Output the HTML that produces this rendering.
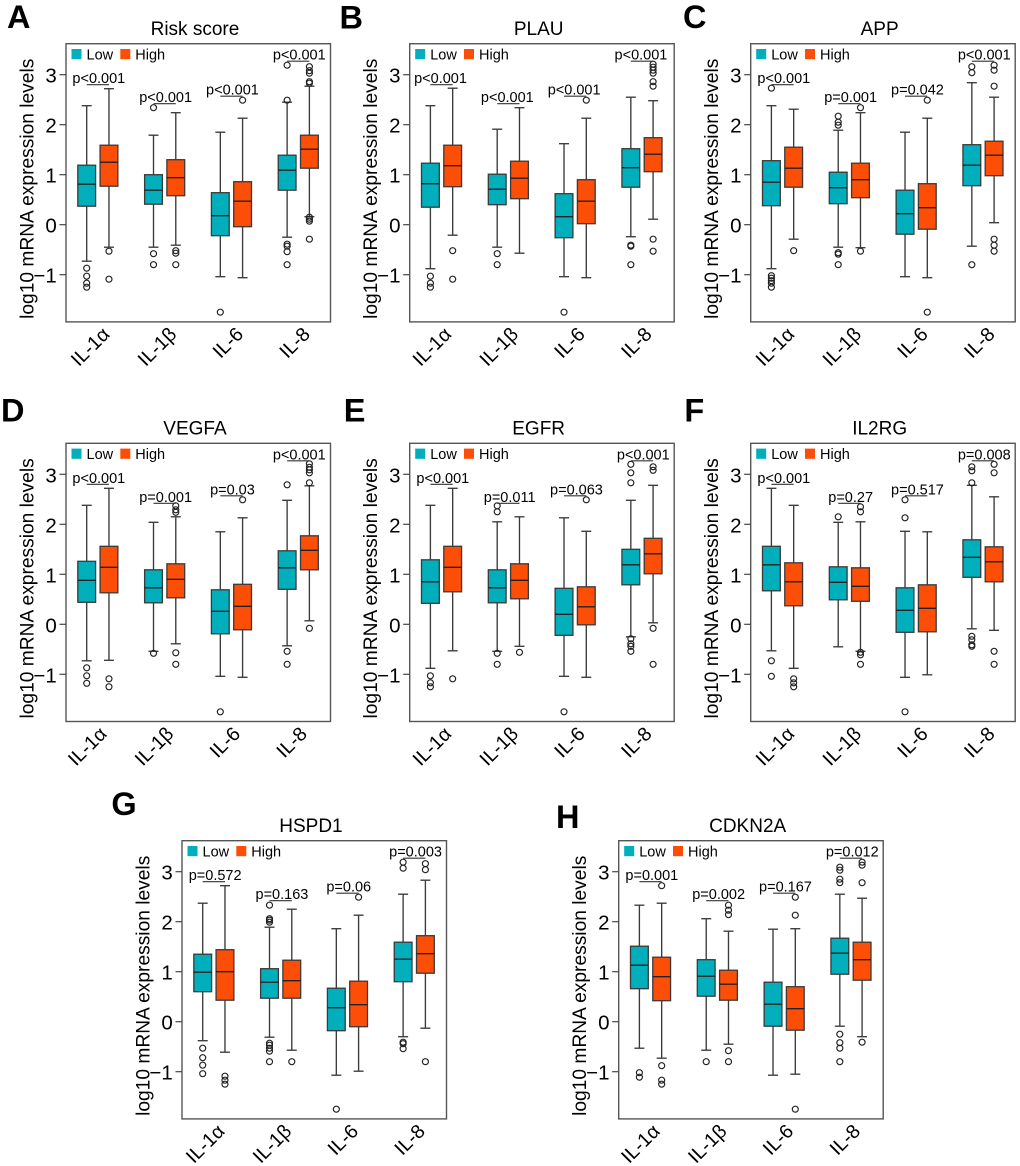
<!DOCTYPE html>
<html lang="en">
<head>
<meta charset="utf-8">
<title>mRNA expression boxplots</title>
<style>
html,body{margin:0;padding:0;background:#fff;width:1020px;height:1166px;overflow:hidden}
svg{display:block;font-family:"Liberation Sans",Arial,sans-serif}
</style>
</head>
<body>
<svg id="figure" xmlns="http://www.w3.org/2000/svg" width="1020" height="1166" viewBox="0 0 1020 1166"></svg>
<script>
// ---- chart data: order of each box is [lower whisker, Q1, median, Q3, upper whisker] ----
const categories = ['IL-1α', 'IL-1β', 'IL-6', 'IL-8'];
const groupNames = ['Low', 'High'];
const yTickValues = [-1, 0, 1, 2, 3];
const yTickLabels = ['−1', '0', '1', '2', '3'];
const panelTitles = ['Risk score', 'PLAU', 'APP', 'VEGFA', 'EGFR', 'IL2RG', 'HSPD1', 'CDKN2A'];
const panelLetters = ['A', 'B', 'C', 'D', 'E', 'F', 'G', 'H'];

const lowBoxes = [
  [[-.73,.37,.81,1.19,2.38],[-.45,.41,.69,1.0,1.79],[-1.04,-.22,.18,.64,1.85],[-.25,.69,1.09,1.39,2.45]],
  [[-.88,.35,.82,1.23,2.38],[-.45,.4,.71,1.01,1.91],[-1.04,-.26,.16,.62,1.62],[-.24,.75,1.14,1.52,2.55]],
  [[-.88,.38,.85,1.28,2.38],[-.45,.42,.74,1.05,1.89],[-1.04,-.19,.22,.69,1.85],[-.43,.78,1.19,1.6,2.84]],
  [[-.73,.44,.88,1.26,2.38],[-.54,.43,.73,1.09,2.04],[-1.04,-.19,.26,.69,1.85],[-.43,.7,1.13,1.47,2.48]],
  [[-.88,.42,.85,1.29,2.38],[-.54,.43,.73,1.09,2.05],[-1.04,-.22,.2,.72,2.13],[-.25,.79,1.19,1.5,2.48]],
  [[-.53,.67,1.19,1.56,2.72],[-.45,.49,.84,1.15,2.04],[-1.06,-.16,.28,.73,1.86],[-.09,.94,1.34,1.69,2.78]],
  [[-.38,.6,.99,1.35,2.37],[-.31,.47,.79,1.06,1.89],[-1.07,-.18,.28,.67,1.86],[-.3,.8,1.25,1.59,2.55]],
  [[-.53,.66,1.13,1.51,2.33],[-.57,.51,.91,1.24,2.06],[-1.07,-.09,.35,.79,1.85],[-.09,.95,1.37,1.67,2.55]]
];
const highBoxes = [
  [[-.45,.77,1.25,1.59,2.72],[-.41,.58,.94,1.3,2.24],[-1.06,-.04,.47,.86,2.13],[.16,1.13,1.51,1.79,2.77]],
  [[-.21,.76,1.18,1.59,2.73],[-.57,.52,.93,1.27,2.34],[-1.06,.02,.47,.9,2.13],[.11,1.06,1.41,1.74,2.48]],
  [[-.29,.75,1.13,1.55,2.31],[-.46,.54,.9,1.23,2.24],[-1.06,-.09,.34,.82,2.13],[.04,.98,1.39,1.67,2.55]],
  [[-.72,.63,1.14,1.56,2.72],[-.39,.53,.9,1.21,2.15],[-1.06,-.11,.36,.8,2.13],[.07,1.09,1.48,1.77,2.77]],
  [[-.53,.65,1.14,1.56,2.72],[-.44,.51,.88,1.21,2.15],[-1.06,-.01,.35,.75,1.86],[.03,1.01,1.41,1.72,2.78]],
  [[-.88,.37,.85,1.23,2.38],[-.54,.46,.76,1.13,2.05],[-1.01,-.15,.32,.79,1.85],[-.12,.85,1.25,1.55,2.55]],
  [[-.61,.43,1.0,1.44,2.72],[-.57,.47,.82,1.23,2.25],[-.99,-.1,.34,.81,2.13],[-.13,.97,1.36,1.72,2.83]],
  [[-.73,.42,.9,1.29,2.37],[-.45,.43,.75,1.03,1.81],[-1.05,-.17,.26,.7,1.86],[-.3,.83,1.24,1.59,2.47]]
];
const lowOutliers = [
  [[-.87,-1.03,-1.17,-1.25],[2.34,-.58,-.8],[-1.75],[3.19,2.49,-.39,-.43,-.54,-.8]],
  [[-1.03,-1.17,-1.25],[-.58,-.8],[-1.75],[-.41,-.43,-.8]],
  [[2.73,-1.02,-1.07,-1.12,-1.17,-1.25],[2.17,2.05,1.99,-.56,-.59,-.8],[],[3.16,3.04,-.8]],
  [[-.87,-1.03,-1.18],[-.58],[-1.75],[2.79,-.54,-.8]],
  [[-1.03,-1.17,-1.25],[2.37,2.25,-.58,-.8],[-1.75],[3.2,3.03,2.83,-.29,-.39,-.44,-.54]],
  [[-.73,-1.04],[2.15],[2.49,2.13,-1.75],[3.15,3.07,2.83,-.24,-.31,-.41,-.44]],
  [[-.53,-.72,-.87,-1.04],[2.33,2.06,2.03,1.99,-.43,-.47,-.53,-.59,-.8],[-1.75],[3.19,3.07,-.41,-.44,-.54]],
  [[-1.02,-1.11],[-.8],[],[3.09,3.03,2.85,2.78,-.25,-.42,-.53,-.8]]
];
const highOutliers = [
  [[-.53,-1.09],[-.52,-.57,-.8],[2.49],[3.16,3.08,3.03,2.86,2.83,.15,.11,.07,-.29]],
  [[-.52,-1.09],[],[2.49],[3.21,3.15,3.09,3.03,2.86,2.77,-.29,-.53]],
  [[-.52],[2.34,-.53],[2.49,-1.75],[3.19,3.09,2.77,-.29,-.41,-.53]],
  [[-1.09,-1.25],[2.37,2.29,2.24,-.57,-.8],[2.49],[3.21,3.14,3.09,3.03,2.83,-.08]],
  [[-1.09],[-.56],[2.49],[3.15,3.08,-.08,-.8]],
  [[-1.09,-1.17,-1.25],[2.35,2.25,-.56,-.61,-.8],[],[3.2,3.03,-.54,-.8]],
  [[-1.09,-1.17,-1.25],[-.8],[2.49],[3.16,3.04,-.8]],
  [[2.72,-.88,-1.17,-1.25],[2.33,2.23,2.14,-.58,-.8],[2.49,2.13,-1.75],[3.19,3.13,2.78,-.41]]
];
const pLabels = [
  ['p<0.001','p<0.001','p<0.001','p<0.001'],
  ['p<0.001','p<0.001','p<0.001','p<0.001'],
  ['p<0.001','p=0.001','p=0.042','p<0.001'],
  ['p<0.001','p=0.001','p=0.03','p<0.001'],
  ['p<0.001','p=0.011','p=0.063','p<0.001'],
  ['p<0.001','p=0.27','p=0.517','p=0.008'],
  ['p=0.572','p=0.163','p=0.06','p=0.003'],
  ['p=0.001','p=0.002','p=0.167','p=0.012']
];
const pBarLevels = [2.8, 2.42, 2.57, 3.27];

// ---- layout (not data) ----
const panelLeft   = [66, 409.7, 750.7, 66, 409.7, 750.7, 182, 618.7];
const panelTop    = [43.7, 43.7, 43.7, 443.3, 443.3, 443.3, 840.7, 840.7];
const labelShift  = [13, 11, 13, 10, 11, 13, 12, 10.5];
const pShift      = [1, -1, 1.3, 1, 1.3, 1.3, 1.3, 1.3];
const letterX     = [7, 339.5, 683, 1, 343.7, 684.4, 111.4, 556];
const letterY     = [28, 28.3, 28, 421.7, 421.7, 421.7, 815, 828];
const PANEL_W = 264.5, PANEL_H = 278.2, UNIT_PX = 50, ZERO_OFFSET = 181, AT_PX = 22.27, AT_OFFSET = 20.7;
const BOX_W = 17.8, CAP_W = 10;
const INK = '#3a3a3a', FILLS = ['#00AFBB', '#FC4E07'];

const svg = document.getElementById('figure');
const NS = 'http://www.w3.org/2000/svg';
function add(parent, tag, attrs, txt) {
  const el = document.createElementNS(NS, tag);
  for (const k in attrs) el.setAttribute(k, attrs[k]);
  if (txt !== undefined) el.textContent = txt;
  parent.appendChild(el);
  return el;
}
function xAxis(p, at) { return panelLeft[p] + AT_OFFSET + (at - 1) * AT_PX; }
function yAxis(p, v) { return panelTop[p] + ZERO_OFFSET - v * UNIT_PX; }

function drawBox(g, p, at, stats, outliers, fill, catName, groupName) {
  const x = xAxis(p, at);
  const [wl, q1, med, q3, wh] = stats;
  const slug = catName.toLowerCase() + '-' + groupName.toLowerCase();
  const box = add(g, 'g', {});
  
  
  const ls = {stroke: INK, 'stroke-width': 1.35, fill: 'none'};
  add(box, 'line', Object.assign({x1: x, x2: x, y1: yAxis(p, wh), y2: yAxis(p, q3)}, ls));
  add(box, 'line', Object.assign({x1: x, x2: x, y1: yAxis(p, q1), y2: yAxis(p, wl)}, ls));
  add(box, 'line', Object.assign({x1: x - CAP_W / 2, x2: x + CAP_W / 2, y1: yAxis(p, wh), y2: yAxis(p, wh)}, ls));
  add(box, 'line', Object.assign({x1: x - CAP_W / 2, x2: x + CAP_W / 2, y1: yAxis(p, wl), y2: yAxis(p, wl)}, ls));
  add(box, 'rect', {x: x - BOX_W / 2, y: yAxis(p, q3), width: BOX_W, height: yAxis(p, q1) - yAxis(p, q3), fill: fill, stroke: INK, 'stroke-width': 1.3});
  add(box, 'line', {x1: x - BOX_W / 2, x2: x + BOX_W / 2, y1: yAxis(p, med), y2: yAxis(p, med), stroke: '#222', 'stroke-width': 1.4});
  outliers.forEach(function (v) {
    const c = add(box, 'circle', {cx: x, cy: yAxis(p, v), r: 3, fill: 'none', stroke: '#222', 'stroke-width': 1.15});
    
    
  });
}

panelTitles.forEach(function (title, p) {
  const left = panelLeft[p], top = panelTop[p];
  const g = add(svg, 'g', {});
  
  

  const letter = add(g, 'text', {x: letterX[p], y: letterY[p], 'font-size': 32.5, 'font-weight': 'bold', fill: '#000'}, panelLetters[p]);
  
  

  const ttl = add(g, 'text', {x: left + PANEL_W / 2 - 3.3, y: top - 8.8, 'font-size': 19, 'text-anchor': 'middle', fill: '#000'}, title);
  
  

  const frame = add(g, 'rect', {x: left, y: top, width: PANEL_W, height: PANEL_H, fill: '#fff', stroke: '#555', 'stroke-width': 1.4});
  
  

  const yT = left - 32.7, yC = top + PANEL_H / 2 + 6;
  const yl = add(g, 'text', {x: yT, y: yC, 'font-size': 19.2, 'text-anchor': 'middle', fill: '#000', transform: 'rotate(-90 ' + yT + ' ' + yC + ')'}, 'log10 mRNA expression levels');
  
  

  yTickValues.forEach(function (v, i) {
    const ty = yAxis(p, v);
    const tick = add(g, 'line', {x1: left - 6.5, x2: left, y1: ty, y2: ty, stroke: '#444', 'stroke-width': 1.2});
    
    
    const tl = add(g, 'text', {x: left - 9.2, y: ty + 8, 'font-size': 20.5, 'text-anchor': 'end', fill: '#000'}, yTickLabels[i]);
    
    
  });

  // legend
  const lg = add(g, 'g', {});
  
  
  [5.5, 54.3].forEach(function (off, i) {
    add(lg, 'rect', {x: left + off, y: top + 5.3, width: 10, height: 10.2, fill: FILLS[i]});
    const t = add(lg, 'text', {x: left + off + 15, y: top + 15.6, 'font-size': 14.5, fill: '#000'}, groupNames[i]);
    
    
  });

  categories.forEach(function (cat, c) {
    const atLow = 1 + c * 3, atHigh = 2 + c * 3;
    drawBox(g, p, atLow, lowBoxes[p][c], lowOutliers[p][c], FILLS[0], cat, groupNames[0]);
    drawBox(g, p, atHigh, highBoxes[p][c], highOutliers[p][c], FILLS[1], cat, groupNames[1]);

    const by = yAxis(p, pBarLevels[c]);
    const bar = add(g, 'line', {x1: xAxis(p, atLow), x2: xAxis(p, atHigh), y1: by, y2: by, stroke: '#333', 'stroke-width': 1.1});
    
    
    const mid = (xAxis(p, atLow) + xAxis(p, atHigh)) / 2;
    const pt = add(g, 'text', {x: mid + pShift[p], y: by - 1.5, 'font-size': 14.5, 'text-anchor': 'middle', fill: '#000'}, pLabels[p][c]);
    
    

    const lx = mid + labelShift[p], ly = top + PANEL_H + 13.5;
    const xl = add(g, 'text', {x: lx, y: ly, 'font-size': 19.6, 'text-anchor': 'end', fill: '#000', transform: 'rotate(-45 ' + lx + ' ' + ly + ')'}, cat);
    
    
  });
});
</script>
</body>
</html>
